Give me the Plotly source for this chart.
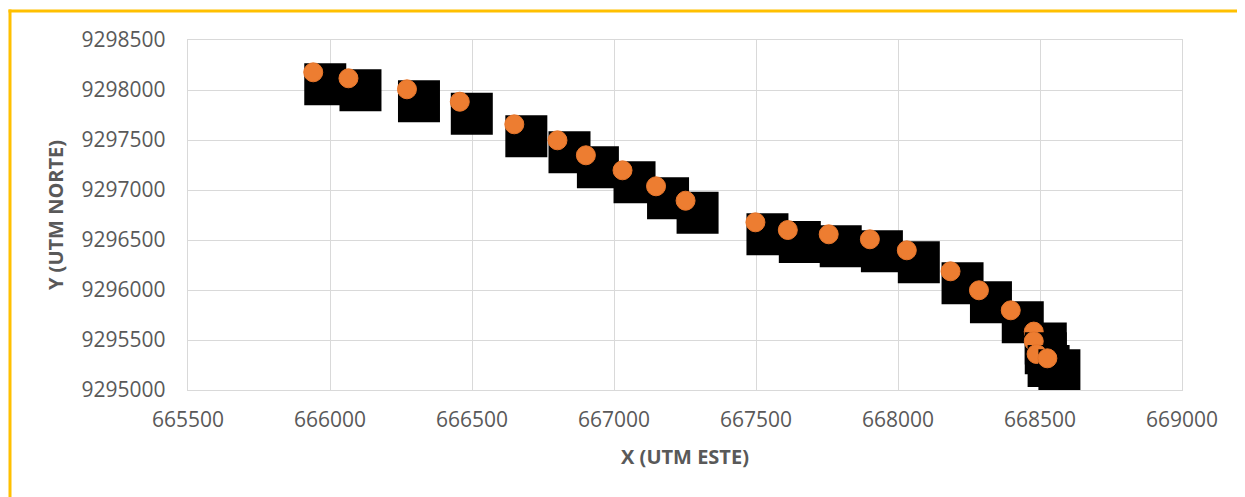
import plotly.graph_objects as go

# Data points (UTM coordinates)
x_este = [665941, 666065, 666271, 666457, 666649, 666801, 666901, 667030,
          667148, 667252, 667498, 667612, 667756, 667901, 668031, 668185,
          668285, 668397, 668478, 668478, 668488, 668526]
y_norte = [9298177, 9298117, 9298007, 9297883, 9297657, 9297497, 9297347, 9297197,
           9297037, 9296893, 9296677, 9296600, 9296557, 9296507, 9296397, 9296187,
           9295997, 9295797, 9295584, 9295487, 9295360, 9295317]

x_ticks = [665500, 666000, 666500, 667000, 667500, 668000, 668500, 669000]
y_ticks = [9295000, 9295500, 9296000, 9296500, 9297000, 9297500, 9298000, 9298500]

# visual offset of the square picture-marker relative to the point (data units)
SQ_DX = 42.3
SQ_DY = -120

fig = go.Figure()
for xv, yv in zip(x_este, y_norte):
    fig.add_trace(go.Scatter(
        x=[xv + SQ_DX], y=[yv + SQ_DY], mode="markers",
        marker=dict(symbol="square", size=42, color="#000000", line=dict(width=0)),
        showlegend=False, hoverinfo="skip"))
    fig.add_trace(go.Scatter(
        x=[xv], y=[yv], mode="markers",
        marker=dict(symbol="circle", size=19, color="#ED7D31",
                    line=dict(width=1, color="#E8762B")),
        showlegend=False))

tick_font = dict(family="Open Sans", size=21, color="#595959")
title_font = dict(family="Open Sans", size=20, color="#595959", weight="bold")

# page body has an 8px margin: figure shifted by 8px and sized to fit the window
W, H = 1237, 489
L, T = 180, 32
PW, PH = 994, 350

# chart frame (filled strips, 3px thick) in paper units
fx0 = (0.5 - L) / PW
fx1 = (3.5 - L) / PW
fy1 = (PH + T - 1.5) / PH
fy0 = (PH + T - 4.5) / PH
gold = "#FFC000"

fig.update_layout(
    width=W, height=H,
    margin=dict(l=L, r=W - L - PW, t=T, b=H - T - PH),
    paper_bgcolor="white", plot_bgcolor="white",
    xaxis=dict(range=[x_ticks[0], x_ticks[-1]], tickvals=x_ticks,
               ticktext=[str(v) for v in x_ticks], tickfont=tick_font,
               showgrid=True, gridcolor="#D9D9D9", gridwidth=1.3,
               showline=True, linecolor="#D9D9D9", linewidth=1.3, mirror=True,
               zeroline=False, ticks="", ticklabelstandoff=11,
               title=dict(text="X (UTM ESTE)", font=title_font, standoff=17),
               automargin=False),
    yaxis=dict(range=[y_ticks[0], y_ticks[-1]], tickvals=y_ticks,
               ticktext=[str(v) for v in y_ticks], tickfont=tick_font,
               showgrid=True, gridcolor="#D9D9D9", gridwidth=1.3,
               showline=True, linecolor="#D9D9D9", linewidth=1.3, mirror=True,
               zeroline=False, ticks="", ticklabelstandoff=17,
               title=dict(text="Y (UTM NORTE)", font=title_font, standoff=12),
               automargin=False),
    shapes=[
        dict(type="rect", xref="paper", yref="paper",
             x0=fx0, x1=(W - L) / PW, y0=fy0, y1=fy1,
             fillcolor=gold, line=dict(width=0), layer="below"),
        dict(type="rect", xref="paper", yref="paper",
             x0=fx0, x1=fx1, y0=-(H - T - PH) / PH, y1=fy1,
             fillcolor=gold, line=dict(width=0), layer="below"),
    ],
)

fig.write_html("out.html")
